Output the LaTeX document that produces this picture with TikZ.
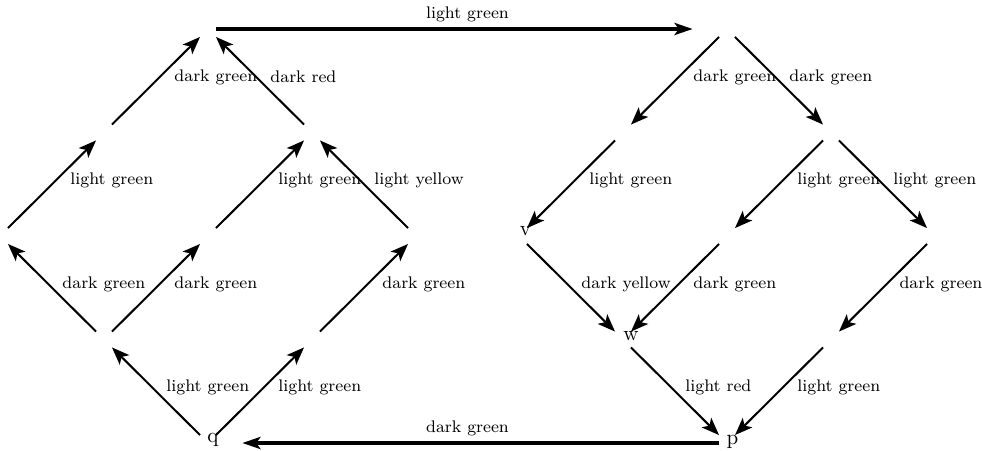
\documentclass[tikz,border=0pt]{standalone}
\usetikzlibrary{arrows.meta}
\begin{document}
\begin{tikzpicture}[x=0.47619pt,y=-0.47619pt,
  vert/.style={inner sep=0pt,outer sep=0pt,minimum size=7.6pt},
  arr/.style={line width=0.95pt,-{Stealth[length=8.4pt,width=6.4pt,inset=2pt]}},
  harr/.style={line width=1.45pt,-{Stealth[length=8.6pt,width=5.8pt,inset=2pt]},shorten >=12.6pt},
  lab/.style={font=\footnotesize,inner sep=0pt,anchor=west,yshift=1.7pt},
  labA/.style={lab,midway,xshift=4.5pt},
  labB/.style={lab,midway,xshift=8.3pt},
  hlab/.style={font=\footnotesize,inner sep=0pt,midway,above=2.6pt},
  letter/.style={anchor=base,inner sep=0pt}
]
\useasboundingbox (0,0) rectangle (982,450);
% left diamond
\node[vert] (T) at (208,29) {};
\node[vert] (L3a) at (104,132.5) {};
\node[vert] (L3b) at (312,132.5) {};
\node[vert] (L2a) at (0,236) {};
\node[vert] (L2b) at (208,236) {};
\node[vert] (L2c) at (416,236) {};
\node[vert] (L1a) at (104,339.5) {};
\node[vert] (L1b) at (312,339.5) {};
\node[vert] (q) at (208,443) {};
% right diamond
\node[vert] (RT) at (727,29) {};
\node[vert] (R3a) at (623,132.5) {};
\node[vert] (R3b) at (831,132.5) {};
\node[vert] (v) at (519,236) {};
\node[vert] (R2b) at (727,236) {};
\node[vert] (R2c) at (935,236) {};
\node[vert] (w) at (623,339.5) {};
\node[vert] (R1b) at (831,339.5) {};
\node[vert] (p) at (727,443) {};
% letters
\node[letter] (qt) at (213,442) {q};
\node[letter] (vt) at (525.5,235) {v};
\node[letter] (wt) at (631,340) {w};
\node[letter] (pt) at (732.5,444) {p};
% left edges
\draw[arr] (q) -- node[labA]{light green} (L1a);
\draw[arr] (q) -- node[labB]{light green} (L1b);
\draw[arr] (L1a) -- node[labA]{dark green} (L2a);
\draw[arr] (L1a) -- node[labB]{dark green} (L2b);
\draw[arr] (L1b) -- node[labB]{dark green} (L2c);
\draw[arr] (L2a) -- node[labB]{light green} (L3a);
\draw[arr] (L2b) -- node[labB]{light green} (L3b);
\draw[arr] (L2c) -- node[labA]{light yellow} (L3b);
\draw[arr] (L3a) -- node[labB]{dark green} (T);
\draw[arr] (L3b) -- node[labA]{dark red} (T);
% right edges
\draw[arr] (RT) -- node[labB]{dark green} (R3a);
\draw[arr] (RT) -- node[labA]{dark green} (R3b);
\draw[arr] (R3a) -- node[labB]{light green} (v);
\draw[arr] (R3b) -- node[labB]{light green} (R2b);
\draw[arr] (R3b) -- node[labA]{light green} (R2c);
\draw[arr] (v) -- node[labA]{dark yellow} (w);
\draw[arr] (R2b) -- node[labB]{dark green} (w);
\draw[arr] (R2c) -- node[labB,xshift=-0.9pt]{dark green} (R1b);
\draw[arr] (w) -- node[labA]{light red} (p);
\draw[arr] (R1b) -- node[labB]{light green} (p);
% horizontal edges
\draw[harr] (T) -- node[hlab]{light green} (RT);
\draw[harr] (p) -- node[hlab]{dark green} (q);
\end{tikzpicture}
\end{document}
